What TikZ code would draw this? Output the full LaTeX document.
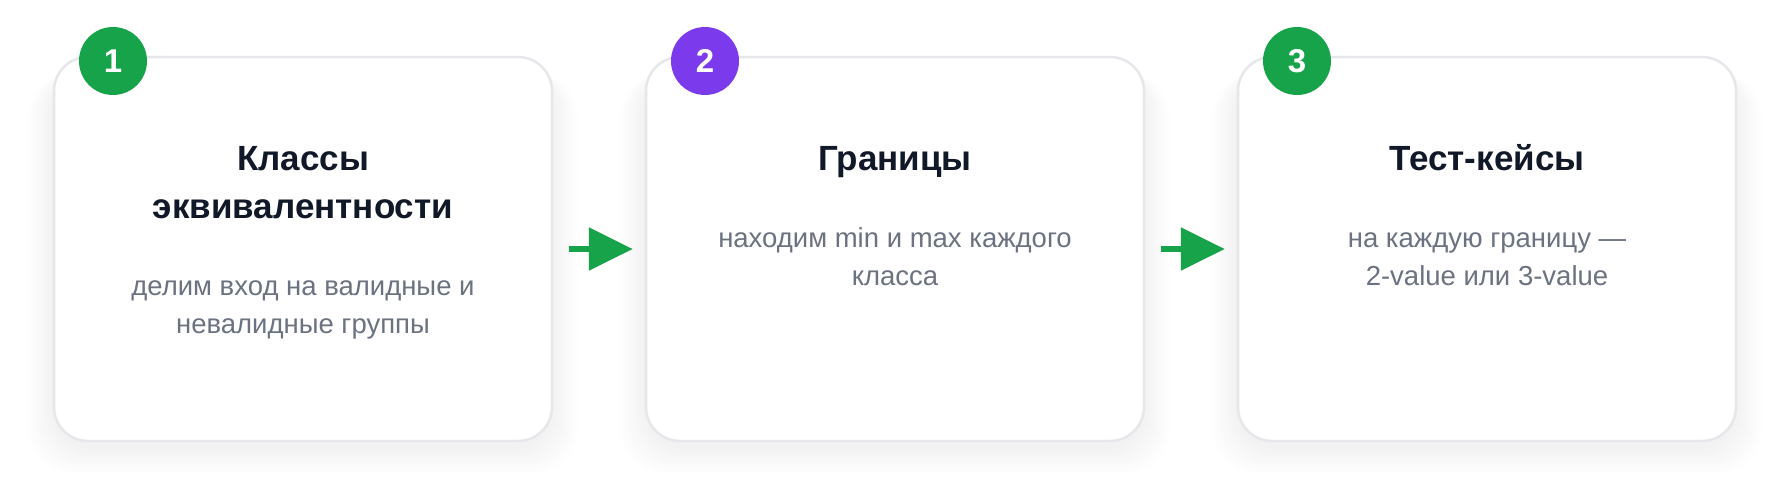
\documentclass[tikz,border=0pt]{standalone}
\usepackage{fontspec}
\setmainfont{Liberation Sans}
\usetikzlibrary{arrows.meta}
\definecolor{ttl}{HTML}{111827}
\definecolor{dsc}{HTML}{6B7280}
\definecolor{brd}{HTML}{E5E7EB}
\definecolor{grn}{HTML}{16A34A}
\definecolor{prp}{HTML}{7C3AED}
\begin{document}
\begin{tikzpicture}[x=1pt,y=-1pt,
  card/.style={draw=brd,line width=2.5pt,fill=white,rounded corners=34pt,minimum width=498pt,minimum height=384pt,inner sep=0pt},
  badge/.style={circle,minimum size=68pt,inner sep=0pt,text=white,font=\fontsize{33}{33}\selectfont\bfseries},
  ttlf/.style={anchor=base,text=ttl,font=\fontsize{35}{42}\selectfont\bfseries,inner sep=0pt},
  dscf/.style={anchor=base,text=dsc,font=\fontsize{27.5}{32}\selectfont,inner sep=0pt},
  flow/.style={draw=grn,line width=6pt,-{Triangle[length=44pt,width=42pt]},shorten <=16pt,shorten >=12pt},
  shad/.style={fill=black,opacity=0.004,rounded corners=44pt}]
\useasboundingbox (0,0) rectangle (1790,501);
\fill[white] (0,0) rectangle (1790,501);
% shadows
\foreach \L in {54,646,1238}{
  \foreach \i in {2,4,...,26}{
    \path[shad] ({\L-\i},{68+0.2*\i}) rectangle ({\L+498+\i},{448+\i});
  }
}
% cards
\node[card] (c1) at (303,249) {};
\node[card] (c2) at (895,249) {};
\node[card] (c3) at (1487,249) {};
% badges
\node[badge,fill=grn] (b1) at (113,61) {1};
\node[badge,fill=prp] (b2) at (705,61) {2};
\node[badge,fill=grn] (b3) at (1297,61) {3};
% texts card 1
\node[ttlf] (t1a) at (303,170) {Классы};
\node[ttlf] (t1b) at (303,218) {эквивалентности};
\node[dscf] (d1a) at (303,295) {делим вход на валидные и};
\node[dscf] (d1b) at (303,333) {невалидные группы};
% texts card 2
\node[ttlf] (t2a) at (895,170) {Границы};
\node[dscf] (d2a) at (895,247) {находим min и max каждого};
\node[dscf] (d2b) at (895,285) {класса};
% texts card 3
\node[ttlf] (t3a) at (1487,170) {Тест-кейсы};
\node[dscf] (d3a) at (1487,247) {на каждую границу —};
\node[dscf] (d3b) at (1487,285) {2-value или 3-value};
% arrows
\draw[flow] (c1.east) -- (c2.west);
\draw[flow] (c2.east) -- (c3.west);
\end{tikzpicture}
\end{document}
